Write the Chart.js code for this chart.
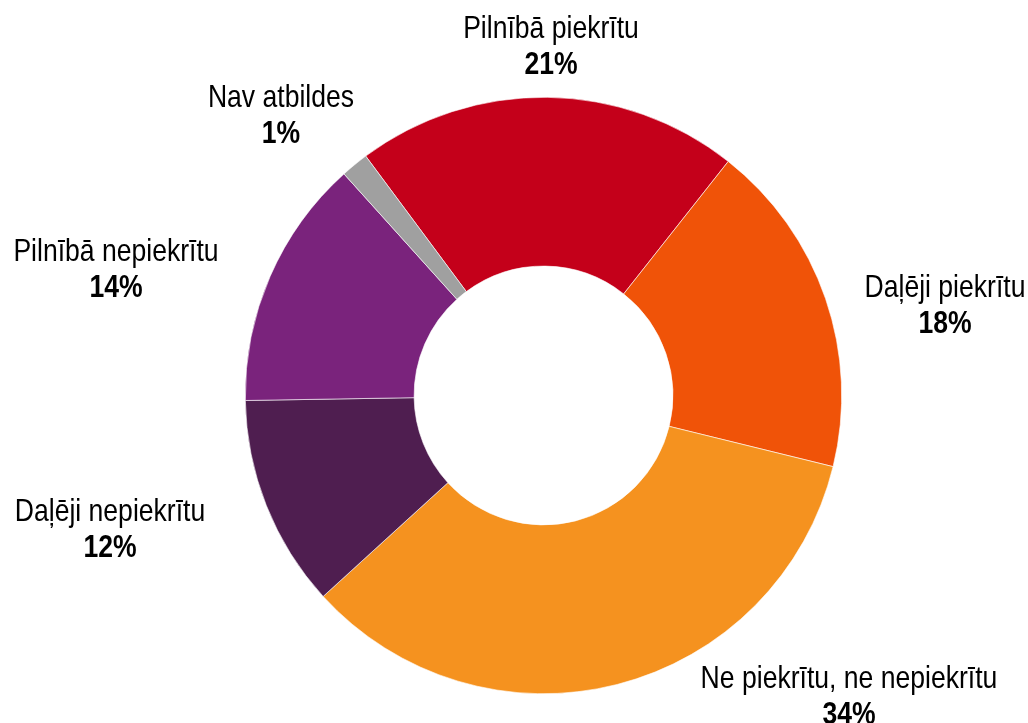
<!DOCTYPE html>
<html>
<head>
<meta charset="utf-8">
<script src="https://cdn.jsdelivr.net/npm/chart.js@4.4.1/dist/chart.umd.min.js"></script>
<style>
  html, body { margin: 0; padding: 0; background: #ffffff; }
  #wrap { position: relative; width: 1028px; height: 723px; }
</style>
</head>
<body>
<div id="wrap"><canvas id="c" width="1028" height="723"></canvas></div>
<script>
// ---- data ----
const categories = [
  "Pilnībā piekrītu",
  "Daļēji piekrītu",
  "Ne piekrītu, ne nepiekrītu",
  "Daļēji nepiekrītu",
  "Pilnībā nepiekrītu",
  "Nav atbildes"
];
const shares = [20.8, 18.2, 34.4, 11.5, 13.6, 1.5];
const percentLabels = ["21%", "18%", "34%", "12%", "14%", "1%"];
const sliceColors = ["#C4001A", "#F05308", "#F5921F", "#4F1E50", "#7A237C", "#A0A0A0"];

// label placement (text centre x, first-line baseline y)
const labelPos = [
  [551, 38],
  [945, 297],
  [849, 688],
  [110, 521],
  [116, 261],
  [281, 107]
];

const FONT = '"Liberation Sans Narrow", "Arial Narrow", "Liberation Sans", Arial, sans-serif';
const NARROW = 0.83;

function narrowText(ctx, text, x, y) {
  ctx.save();
  ctx.translate(x, y);
  ctx.scale(NARROW, 1);
  ctx.fillText(text, 0, 0);
  ctx.restore();
}

const labelPlugin = {
  id: 'outsideLabels',
  afterDraw(chart) {
    const ctx = chart.ctx;
    ctx.save();
    ctx.fillStyle = '#000000';
    ctx.textAlign = 'center';
    ctx.textBaseline = 'alphabetic';
    categories.forEach((name, i) => {
      const [x, y] = labelPos[i];
      ctx.font = '32px ' + FONT;
      narrowText(ctx, name, x, y);
      ctx.font = 'bold 32px ' + FONT;
      narrowText(ctx, percentLabels[i], x, y + 36);
    });
    ctx.restore();
  }
};

new Chart(document.getElementById('c'), {
  type: 'doughnut',
  data: {
    labels: categories,
    datasets: [{
      data: shares,
      backgroundColor: sliceColors,
      borderColor: '#ffffff',
      borderWidth: 0.6,
      hoverOffset: 0
    }]
  },
  options: {
    responsive: false,
    animation: false,
    rotation: -36.6,
    cutout: '43.4%',
    layout: { padding: { left: 245, top: 97, right: 186, bottom: 29 } },
    plugins: {
      legend: { display: false },
      tooltip: { enabled: false }
    }
  },
  plugins: [labelPlugin]
});
</script>
</body>
</html>
